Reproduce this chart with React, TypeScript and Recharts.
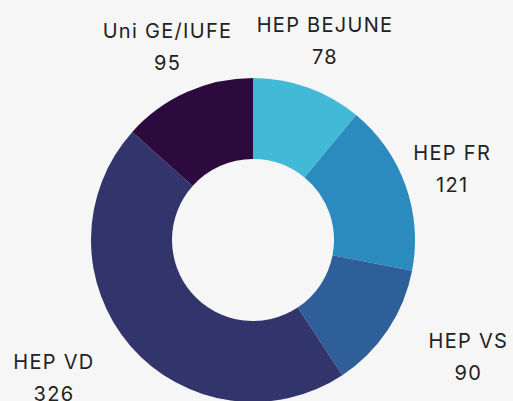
import React from "react";
import { PieChart, Pie, Cell } from "recharts";

const categories = ["HEP BEJUNE", "HEP FR", "HEP VS", "HEP VD", "Uni GE/IUFE"];
const values = [78, 121, 90, 326, 95];
const colors = ["#42b9d6", "#2b8bbe", "#2e5f98", "#32346c", "#2c0a3e"];

const data = categories.map((name, i) => ({ name, value: values[i] }));

const FONT = "20px Inter";
const LS = 1.3;
let ctx: CanvasRenderingContext2D | null = null;
function measure(text: string): number {
  if (!ctx) {
    const c = document.createElement("canvas");
    ctx = c.getContext("2d");
  }
  if (!ctx) return text.length * 12;
  ctx.font = FONT;
  return ctx.measureText(text).width + LS * (text.length - 1);
}

const RADIAN = Math.PI / 180;

const renderLabel = (props: any) => {
  const { cx, cy, midAngle, outerRadius, name, value } = props;
  const r = outerRadius + 49;
  const px = cx + r * Math.cos(-midAngle * RADIAN);
  const py = cy + r * Math.sin(-midAngle * RADIAN);
  let centerX = px;
  if (py > cy) {
    const w = Math.max(measure(String(name)), measure(String(value)));
    centerX = px > cx ? px + w / 2 : px - w / 2;
  }
  const style = { fontFamily: "Inter", fontSize: 20, letterSpacing: LS };
  return (
    <g>
      <text
        x={centerX + LS / 2}
        y={py - 16}
        textAnchor="middle"
        dominantBaseline="central"
        fill="#222222"
        style={style}
      >
        {name}
      </text>
      <text
        x={centerX + LS / 2}
        y={py + 16}
        textAnchor="middle"
        dominantBaseline="central"
        fill="#222222"
        style={style}
      >
        {value}
      </text>
    </g>
  );
};

export default function App() {
  return (
    <div
      style={{
        position: "absolute",
        left: 0,
        top: 0,
        width: 513,
        height: 401,
        background: "#f6f6f6",
        overflow: "hidden",
      }}
    >
      <PieChart width={513} height={401} margin={{ top: 0, right: 0, bottom: 0, left: 0 }}>
        <Pie
          data={data}
          dataKey="value"
          nameKey="name"
          cx={253}
          cy={240}
          innerRadius={81}
          outerRadius={162}
          startAngle={90}
          endAngle={-270}
          stroke="none"
          label={renderLabel}
          labelLine={false}
          isAnimationActive={false}
        >
          {data.map((d, i) => (
            <Cell key={d.name} fill={colors[i]} />
          ))}
        </Pie>
      </PieChart>
    </div>
  );
}
